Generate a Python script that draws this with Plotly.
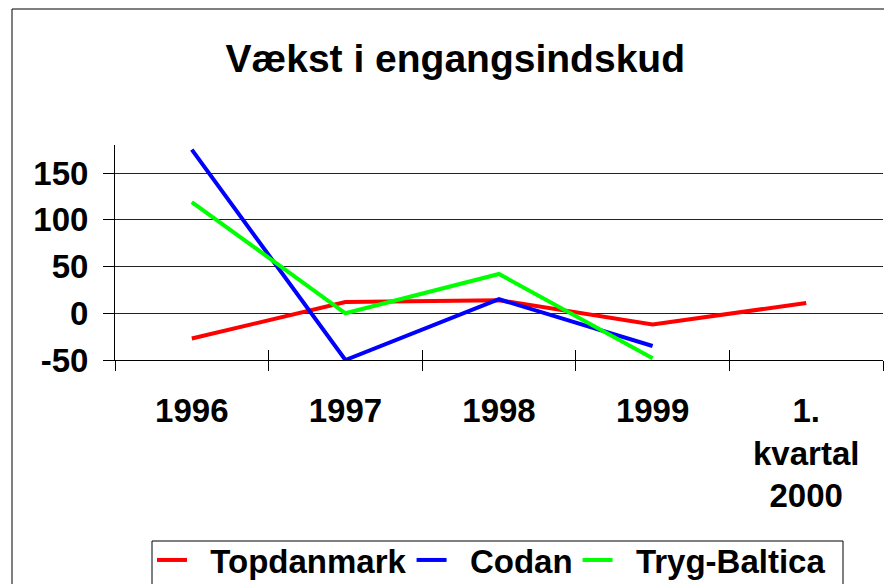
import plotly.graph_objects as go

categories = ["1996", "1997", "1998", "1999", "1.<br>kvartal<br>2000"]
topdanmark = [-27, 12, 14, -12, 11]
codan = [175, -50, 15, -35, None]
tryg = [119, 0, 42, -48, None]
y_ticks = [-50, 0, 50, 100, 150]
y_ticktext = ["-50", "0", "50", "100", "150"]

FONT = "Liberation Sans, Arial, sans-serif"
NB = "\u00a0\u00a0"

fig = go.Figure()
for name, vals, col in [("Topdanmark", topdanmark, "#FF0000"),
                        ("Codan", codan, "#0000FF"),
                        ("Tryg-Baltica", tryg, "#00FF00")]:
    fig.add_trace(go.Scatter(x=categories, y=vals, name=NB + name, mode="lines",
                             line=dict(color=col, width=4), connectgaps=False))

PH = 215.0  # plot height in px
PW = 768.0

fig.update_layout(
    width=884, height=584,
    margin=dict(l=115, r=1, t=145, b=224, autoexpand=False),
    paper_bgcolor="white", plot_bgcolor="white",
    font=dict(family=FONT, size=33, color="black", weight="bold"),
    title=dict(text="Vækst i engangsindskud", x=0.515, xref="container",
               y=1 - 58 / 584, yref="container", xanchor="center", yanchor="middle",
               font=dict(size=39, family=FONT, weight="bold", color="black")),
    showlegend=True,
    legend=dict(orientation="h", x=(152 - 115) / PW, xanchor="left",
                y=(360 - 532) / PH, yanchor="top", yref="paper",
                borderwidth=0, bgcolor="rgba(0,0,0,0)",
                font=dict(size=33, family=FONT, weight="bold"),
                itemwidth=30, tracegroupgap=0),
    xaxis=dict(type="category", range=[-0.5, 4.5], showgrid=False,
               showline=True, linecolor="black", linewidth=1,
               ticks="outside", tickson="boundaries", ticklen=10, tickcolor="black",
               tickwidth=1, ticklabelstandoff=21, zeroline=False, fixedrange=True),
    xaxis2=dict(type="category", range=[-0.5, 4.5], overlaying="x", anchor="y",
                showgrid=False, showline=False, ticks="inside", tickson="boundaries",
                ticklen=10, tickcolor="black", tickwidth=1, showticklabels=False,
                side="bottom", fixedrange=True),
    yaxis=dict(range=[-50, 180], tickvals=y_ticks, ticktext=y_ticktext,
               showgrid=True, gridcolor="#222222",
               gridwidth=1, showline=True, linecolor="black", linewidth=1,
               ticks="outside", ticklen=11, tickcolor="black", tickwidth=1,
               ticklabelstandoff=8, zeroline=False, fixedrange=True),
)
# helper trace to activate the overlaid axis (for crossing tick marks)
fig.add_trace(go.Scatter(x=categories, y=[None] * len(categories), xaxis="x2",
                         showlegend=False, hoverinfo="skip"))

# outer chart frame
fig.add_shape(type="rect", xref="paper", yref="paper",
              x0=(12 - 115) / PW, x1=1.2, y0=-2.0, y1=(360 - 9) / PH,
              line=dict(color="black", width=1), fillcolor="rgba(0,0,0,0)", layer="below")
# legend frame
fig.add_shape(type="rect", xref="paper", yref="paper",
              x0=(152 - 115) / PW, x1=(843 - 115) / PW,
              y0=(360 - 600) / PH, y1=(360 - 541) / PH,
              line=dict(color="black", width=1), fillcolor="rgba(0,0,0,0)", layer="below")

fig.write_html("out.html", config={"displayModeBar": False},
               post_script="document.body.style.margin='0';")
